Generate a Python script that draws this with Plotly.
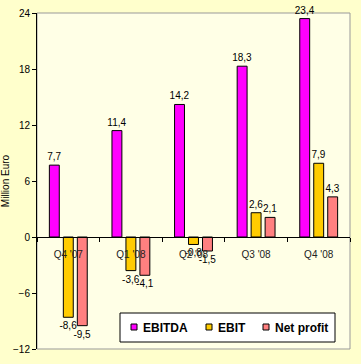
import plotly.graph_objects as go

categories = ["Q4 '07", "Q1 '08", "Q2 '08", "Q3 '08", "Q4 '08"]
ebitda = [7.7, 11.4, 14.2, 18.3, 23.4]
ebit = [-8.6, -3.6, -0.8, 2.6, 7.9]
net_profit = [-9.5, -4.1, -1.5, 2.1, 4.3]
y_ticks = [-12, -6, 0, 6, 12, 18, 24]
series_names = ["EBITDA", "EBIT", "Net profit"]
series_colors = ["#FF00FF", "#FFCC00", "#FF8080"]

def lbl(vals):
    return [f"{v:.1f}".replace(".", ",") for v in vals]

W, H = 361, 364
ML, MR, MT, MB = 37, 11, 13, 15
PW, PH = W - ML - MR, H - MT - MB

def px(xp):
    return (xp - ML) / PW

def py(yp):
    return (H - MB - yp) / PH

font = "Liberation Sans, Arial, sans-serif"
fig = go.Figure()
for name, vals, col in zip(series_names, [ebitda, ebit, net_profit], series_colors):
    fig.add_bar(x=categories, y=vals, name=name, marker_color=col,
                marker_line_color="black", marker_line_width=1,
                text=lbl(vals), textposition="outside", cliponaxis=False,
                constraintext="none",
                textfont=dict(family=font, size=10, color="black"))

# legend box drawn inside plot area (compact, like the original)
shapes = [dict(type="rect", xref="paper", yref="paper", x0=0, x1=1, y0=0, y1=1,
               line=dict(color="#999999", width=1), layer="below"),
          dict(type="rect", xref="paper", yref="paper", x0=px(120), x1=px(335),
               y0=py(342), y1=py(313), fillcolor="white",
               line=dict(color="black", width=1), layer="above")]
annotations = []
sq_x = [131, 206, 263]
for name, col, sx in zip(series_names, series_colors, sq_x):
    shapes.append(dict(type="rect", xref="paper", yref="paper", x0=px(sx), x1=px(sx + 6),
                       y0=py(330), y1=py(324), fillcolor=col,
                       line=dict(color="black", width=1), layer="above"))
    annotations.append(dict(xref="paper", yref="paper", x=px(sx + 10), y=py(327.5),
                            xanchor="left", yanchor="middle", showarrow=False,
                            text=f"<b>{name}</b>",
                            font=dict(family=font, size=12, color="black")))

fig.update_layout(
    width=W, height=H,
    margin=dict(l=ML, r=MR, t=MT, b=MB),
    paper_bgcolor="#FFFFCC", plot_bgcolor="#FFFFE6",
    barmode="group", bargap=0.33, bargroupgap=0.29,
    font=dict(family=font, size=10, color="black"),
    showlegend=False,
    xaxis=dict(anchor="free", position=1/3, showline=True, linecolor="black",
               linewidth=1, ticks="outside", tickson="boundaries", ticklen=4,
               tickcolor="black", showgrid=False, zeroline=False, automargin=False,
               ticklabelstandoff=8,
               tickfont=dict(size=10, color="#222")),
    yaxis=dict(range=[-12, 24], tickvals=y_ticks, showline=True, linecolor="black",
               linewidth=1, ticks="outside", ticklen=4, tickcolor="black",
               showgrid=False, zeroline=False, automargin=False,
               title=dict(text="Million Euro", font=dict(size=10), standoff=2)),
    shapes=shapes,
    annotations=annotations,
)
fig.write_html("out.html", config={"displayModeBar": False},
               post_script="document.body.style.margin='0';")
